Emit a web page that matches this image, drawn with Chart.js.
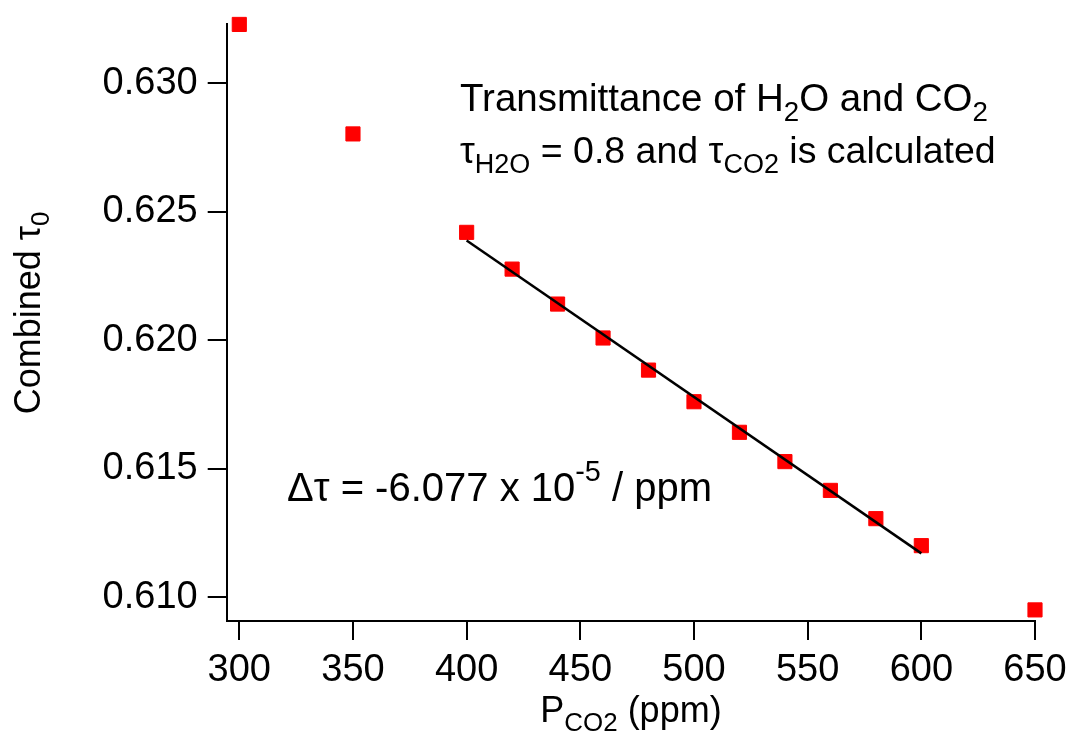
<!DOCTYPE html>
<html>
<head>
  <meta charset="UTF-8">
  <title>Combined tau vs PCO2</title>
  <script src="https://cdn.jsdelivr.net/npm/chart.js"></script>
  <style>
    html, body { margin: 0; padding: 0; background: #fff; }
    .chart-box { width: 1068px; height: 741px; }
  </style>
</head>
<body>
  <div class="chart-box">
    <canvas id="tauChart"></canvas>
  </div>

  <script>
    const pressure = [300, 350, 400, 420, 440, 460, 480, 500, 520, 540, 560, 580, 600, 650];
    const tauCombined = [0.63229, 0.62803, 0.62420, 0.62277, 0.62141, 0.62009, 0.61884, 0.61761,
                         0.61642, 0.61528, 0.61416, 0.61306, 0.61201, 0.60951];
    const fitPressure = [400, 600];
    const fitTau = [0.62388, 0.61171];
    const xTicks = [300, 350, 400, 450, 500, 550, 600, 650];
    const yTicks = [0.610, 0.615, 0.620, 0.625, 0.630];
    const yTickLabels = ["0.610", "0.615", "0.620", "0.625", "0.630"];

    const FONT = '"Liberation Sans", Arial, sans-serif';

    // draw a line of text made of normal / sub / sup pieces
    function drawRich(ctx, parts, x, y, size, align) {
      const small = size * 0.72;
      const widths = parts.map(p => {
        ctx.font = (p[1] ? small : size) + "px " + FONT;
        return ctx.measureText(p[0]).width;
      });
      const total = widths.reduce((a, b) => a + b, 0);
      let cx = align === "center" ? x - total / 2 : x;
      parts.forEach((p, i) => {
        let dy = 0;
        if (p[1] === "sub") dy = size * 0.34;
        if (p[1] === "sup") dy = -size * 0.42;
        ctx.font = (p[1] ? small : size) + "px " + FONT;
        ctx.fillText(p[0], cx, y + dy);
        cx += widths[i];
      });
    }

    const textPlugin = {
      id: "richText",
      afterDraw(chart) {
        const ctx = chart.ctx;
        ctx.save();
        ctx.fillStyle = "#000";
        ctx.textBaseline = "middle";
        ctx.textAlign = "left";
        drawRich(ctx, [["Transmittance of H"], ["2", "sub"], ["O and CO"], ["2", "sub"]], 460, 100, 38.5, "left");
        drawRich(ctx, [["τ"], ["H2O", "sub"], [" = 0.8 and τ"], ["CO2", "sub"], [" is calculated"]], 460, 153, 37.5, "left");
        drawRich(ctx, [["Δτ = -6.077 x 10"], ["-5", "sup"], [" / ppm"]], 287, 490, 40, "left");
        drawRich(ctx, [["P"], ["CO2", "sub"], [" (ppm)"]], 631, 712, 36, "center");
        ctx.translate(30, 313);
        ctx.rotate(-Math.PI / 2);
        drawRich(ctx, [["Combined τ"], ["0", "sub"]], 0, 0, 36, "center");
        ctx.restore();
      }
    };

    const ctx = document.getElementById("tauChart").getContext("2d");
    new Chart(ctx, {
      type: "scatter",
      data: {
        datasets: [
          {
            type: "line",
            label: "fit",
            data: fitPressure.map((p, i) => ({ x: p, y: fitTau[i] })),
            borderColor: "#000",
            borderWidth: 2.5,
            pointRadius: 0,
            fill: false
          },
          {
            label: "Combined tau",
            data: pressure.map((p, i) => ({ x: p, y: tauCombined[i] })),
            pointStyle: "rect",
            pointRadius: 10,
            pointHoverRadius: 10,
            backgroundColor: "#ff0000",
            borderColor: "#ff0000",
            borderWidth: 1
          }
        ]
      },
      options: {
        responsive: true,
        maintainAspectRatio: false,
        animation: false,
        clip: false,
        layout: { autoPadding: false, padding: { top: 24, right: 33, left: 0, bottom: 0 } },
        plugins: {
          legend: { display: false },
          tooltip: { enabled: false }
        },
        scales: {
          x: {
            type: "linear",
            min: 294.46,
            max: 650,
            afterBuildTicks: s => { s.ticks = xTicks.map(v => ({ value: v })); },
            afterFit: s => { s.height = 120; s.paddingLeft = 0; s.paddingRight = 0; },
            ticks: { color: "#000", padding: 8, maxRotation: 0, font: { family: FONT, size: 38 } },
            grid: { drawOnChartArea: false, tickLength: 19, color: "#000", lineWidth: 2 },
            border: { color: "#000", width: 2 }
          },
          y: {
            type: "linear",
            min: 0.609078,
            max: 0.632307,
            afterBuildTicks: s => { s.ticks = yTicks.map(v => ({ value: v })); },
            afterFit: s => { s.width = 226.7; s.paddingTop = 0; s.paddingBottom = 0; },
            ticks: {
              color: "#000",
              padding: 10,
              font: { family: FONT, size: 38 },
              callback: (v, i) => yTickLabels[i]
            },
            grid: { drawOnChartArea: false, tickLength: 19, color: "#000", lineWidth: 2 },
            border: { color: "#000", width: 2 }
          }
        }
      },
      plugins: [textPlugin]
    });
  </script>
</body>
</html>
